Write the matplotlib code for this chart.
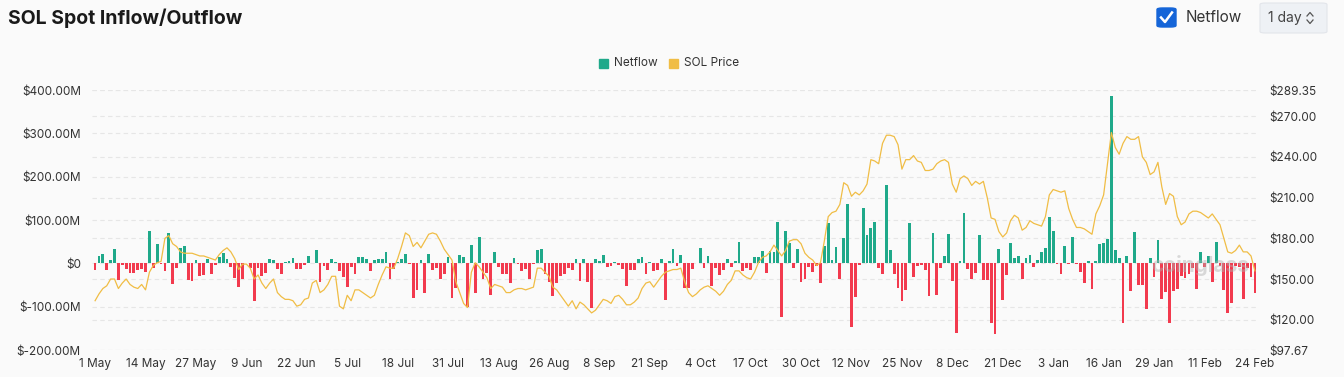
import numpy as np
import pandas as pd
import matplotlib.pyplot as plt
from matplotlib.patches import FancyBboxPatch, Rectangle
from matplotlib.lines import Line2D

plt.rcParams['font.family'] = ['Inter', 'DejaVu Sans']

# daily dates, 1 May 2024 .. 24 Feb 2025
dates = pd.date_range('2024-05-01', '2025-02-24', freq='D')

# netflow in $M, one value per day
netflow = [
    -15, 18, 22, -15, 7, 34, -38, -4, -12, -23, -22, -16, -12, -20, 75, -10, 44, -1, -18, 71,
    -48, -10, 35, 39, -38, -41, 7, -30, -26, 9, -25, -3, 15, 23, 11, -8, -34, -54, -37, 1,
    -10, -87, -10, -29, -22, 11, 7, -12, -25, 3, 5, 13, -14, -12, -3, 18, 1, 30, -43, -5,
    -16, 11, 2, -18, -32, -54, -8, -25, 15, 14, 9, -18, 7, 11, 11, 25, -37, -12, 3, 11,
    21, -2, -80, -62, 8, -68, 21, -15, -10, -35, -25, 15, -81, -56, 19, 15, -100, 42, -68, 60,
    -37, -22, -72, 26, -8, -24, -24, -45, 12, -2, -18, -12, -37, -2, 30, 34, -24, -43, -75, -45,
    -30, -24, -10, -16, 9, -41, 9, -43, -102, 11, 5, 19, -8, -6, 3, -4, -12, -52, -16, -16,
    9, 15, -25, 3, -18, -15, 11, -85, 5, 32, -6, 19, -58, -58, -14, 1, 36, -10, 17, -52,
    -10, -27, -16, 9, -9, 5, 50, -18, -10, -16, 14, 14, 28, -23, 28, 26, 96, -123, 75, 48,
    -10, 34, -42, -35, -8, -19, -5, -46, 40, 92, 8, 38, -37, 58, 138, -148, -77, -4, 128, 65,
    81, 96, -10, -24, 181, 31, -24, -56, -88, -62, 92, -32, -5, -4, -15, -75, 71, -73, -10, 18,
    67, -41, -160, 5, 115, -12, -35, -23, 65, -39, -39, -138, -162, 34, -85, -28, 48, 12, 16, -35,
    13, 19, -8, 7, 26, 35, 108, 74, -1, -24, 41, -2, 60, -1, -19, -45, 6, -60, 6, 45,
    48, 55, 385, 30, 13, -137, 18, -64, 73, -51, -50, -106, 13, -31, 54, -83, -65, -137, -64, -60,
    -29, -33, -25, -10, -60, 27, -8, 17, -42, 50, -5, -62, -115, -92, -5, -8, -83, -10, -31, -69,
]

# SOL price in $, one value per day
sol_price = [
    134, 139, 143, 145, 150, 150, 143, 147, 150, 146, 144, 143, 146, 142, 155, 160, 162, 163, 180, 182,
    176, 174, 170, 169, 169, 169, 168, 167, 167, 166, 165, 164, 168, 171, 173, 170, 165, 157, 161, 161,
    158, 150, 153, 147, 143, 147, 150, 140, 137, 135, 135, 134, 130, 131, 135, 136, 147, 149, 140, 142,
    146, 152, 152, 130, 128, 138, 134, 142, 142, 140, 138, 136, 138, 146, 153, 159, 158, 158, 165, 174,
    184, 182, 174, 177, 173, 178, 183, 184, 183, 178, 172, 168, 164, 148, 140, 132, 129, 155, 162, 159,
    155, 151, 143, 146, 145, 144, 140, 140, 142, 143, 143, 142, 143, 144, 158, 158, 155, 152, 144, 142,
    138, 134, 130, 134, 128, 133, 131, 128, 125, 127, 131, 135, 134, 132, 137, 138, 135, 131, 131, 133,
    136, 143, 147, 148, 144, 148, 152, 155, 156, 157, 157, 158, 148, 140, 137, 139, 142, 144, 145, 143,
    141, 138, 141, 146, 149, 156, 156, 153, 151, 150, 155, 162, 166, 167, 170, 175, 171, 167, 171, 178,
    179, 179, 176, 169, 166, 164, 160, 162, 178, 196, 199, 200, 205, 221, 219, 211, 214, 212, 215, 220,
    238, 237, 235, 250, 256, 256, 255, 249, 231, 238, 238, 241, 237, 236, 230, 230, 231, 235, 237, 238,
    236, 220, 214, 224, 226, 224, 219, 222, 220, 222, 210, 195, 194, 185, 181, 184, 193, 197, 195, 186,
    188, 193, 191, 190, 189, 196, 212, 216, 215, 214, 215, 202, 194, 188, 188, 187, 185, 183, 198, 204,
    212, 235, 258, 247, 242, 250, 255, 253, 253, 255, 240, 236, 227, 229, 236, 218, 205, 213, 211, 196,
    190, 192, 198, 200, 200, 199, 197, 195, 198, 194, 190, 180, 170, 169, 171, 175, 170, 170, 167, 156,
]

left_ticks = [400, 300, 200, 100, 0, -100, -200]
left_labels = ['$400.00M', '$300.00M', '$200.00M', '$100.00M', '$0', '$-100.00M', '$-200.00M']
right_ticks = [289.35, 270, 240, 210, 180, 150, 120, 97.67]

GREEN = '#1fa98a'
RED = '#f23a4e'
GOLD = '#f0bd45'
BG = '#fafafa'

fig = plt.figure(figsize=(13.44, 3.77), dpi=100, facecolor=BG)
ax = fig.add_axes([92 / 1344, 27 / 377, 1166 / 1344, 260 / 377], facecolor=BG)

x = np.arange(len(dates))
vals = np.array(netflow)
colors = [GREEN if v >= 0 else RED for v in vals]
ax.bar(x, vals, width=0.72, color=colors, zorder=2)

ax.set_ylim(-200, 400)
ax.set_xlim(-0.8, len(dates) - 0.2)
ax.set_yticks(left_ticks)
ax.set_yticklabels(left_labels)

# gridlines for both scales drawn under the bars
lo, hi = 97.67, 289.35
for t in left_ticks:
    ax.axhline(t, color='#e6e6e6', lw=0.8, ls=(0, (4, 3)), zorder=0)
for p in right_ticks:
    ax.axhline(-200 + (p - lo) / (hi - lo) * 600, color='#e6e6e6', lw=0.8, ls=(0, (4, 3)), zorder=0)

tick_idx = list(range(0, len(dates), 13))
ax.set_xticks(tick_idx)
ax.set_xticklabels([f"{dates[i].day} {dates[i].strftime('%b')}" for i in tick_idx])

ax2 = ax.twinx()
ax2.plot(x, sol_price, color=GOLD, lw=0.9, zorder=3, solid_joinstyle='round')
ax2.set_ylim(lo, hi)
ax2.set_yticks(right_ticks)
ax2.set_yticklabels([f'${p:.2f}' for p in right_ticks])

for a in (ax, ax2):
    for s in a.spines.values():
        s.set_visible(False)
    a.tick_params(length=0, labelsize=8.5, colors='#333333')
ax.tick_params(axis='y', pad=8)
ax.tick_params(axis='x', pad=6)
ax2.tick_params(axis='y', pad=8)

# watermark
fig.text(1200 / 1344, 1 - 266 / 377, 'coinglass', fontsize=15, color='#b0b0b0',
         alpha=0.45, ha='center', va='center', fontweight='bold')

# title
fig.text(8 / 1344, 1 - 18 / 377, 'SOL Spot Inflow/Outflow', fontsize=14, fontweight='bold',
         color='#1a1a1a', va='center')

# legend
fig.patches.append(Rectangle((599 / 1344, 1 - 68 / 377), 9 / 1344, 9 / 377,
                             transform=fig.transFigure, color=GREEN))
fig.text(614 / 1344, 1 - 63 / 377, 'Netflow', fontsize=8.5, color='#333333', va='center')
fig.patches.append(Rectangle((669 / 1344, 1 - 68 / 377), 9 / 1344, 9 / 377,
                             transform=fig.transFigure, color=GOLD))
fig.text(684 / 1344, 1 - 63 / 377, 'SOL Price', fontsize=8.5, color='#333333', va='center')

# checkbox + label
fig.patches.append(FancyBboxPatch((1157 / 1344, 1 - 27 / 377), 19 / 1344, 19 / 377,
                                  boxstyle='round,pad=0,rounding_size=0.004',
                                  transform=fig.transFigure, color='#1565d8'))
fig.lines.append(Line2D([1161 / 1344, 1165 / 1344, 1172 / 1344],
                        [1 - 17.5 / 377, 1 - 22 / 377, 1 - 12.5 / 377],
                        transform=fig.transFigure, color='white', lw=1.8))
fig.text(1186 / 1344, 1 - 18 / 377, 'Netflow', fontsize=11, color='#333333', va='center')

# interval selector
fig.patches.append(FancyBboxPatch((1260 / 1344, 1 - 33 / 377), 67 / 1344, 30 / 377,
                                  boxstyle='round,pad=0,rounding_size=0.004',
                                  transform=fig.transFigure, facecolor='#eef1f5',
                                  edgecolor='#e2e5ea', lw=0.8))
fig.text(1268 / 1344, 1 - 18 / 377, '1 day', fontsize=10, color='#444444', va='center')
fig.lines.append(Line2D([1307 / 1344, 1310 / 1344, 1313 / 1344],
                        [1 - 16 / 377, 1 - 12.5 / 377, 1 - 16 / 377],
                        transform=fig.transFigure, color='#555555', lw=0.9))
fig.lines.append(Line2D([1307 / 1344, 1310 / 1344, 1313 / 1344],
                        [1 - 20 / 377, 1 - 23.5 / 377, 1 - 20 / 377],
                        transform=fig.transFigure, color='#555555', lw=0.9))

fig.savefig('out.png', dpi=100, facecolor=BG)
